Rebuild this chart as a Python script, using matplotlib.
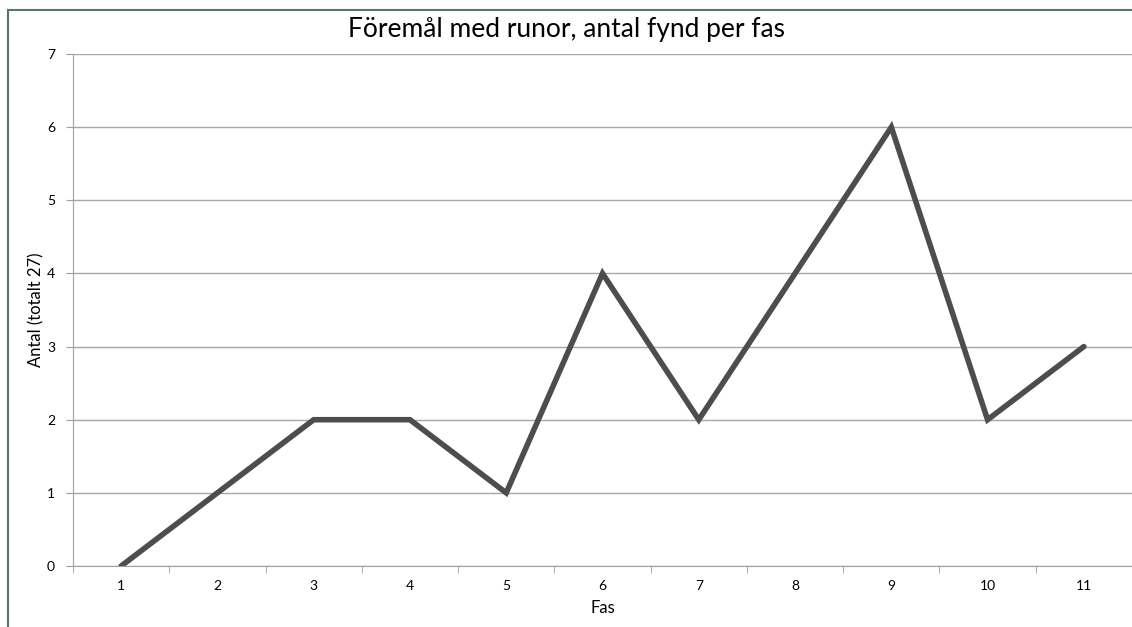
import matplotlib.pyplot as plt
from matplotlib.patches import Rectangle

faser = ['1', '2', '3', '4', '5', '6', '7', '8', '9', '10', '11']
antal = [0, 1, 2, 2, 1, 4, 2, 4, 6, 2, 3]

plt.rcParams['font.family'] = ['Lato', 'DejaVu Sans']

fig = plt.figure(figsize=(11.32, 6.27), dpi=100)
# outer chart frame (left/top edges visible)
fig.patches.append(Rectangle((8 / 1132, -0.1), 1.2, 1 - 10 / 627 + 0.1,
                             transform=fig.transFigure, fill=False,
                             edgecolor='#56756f', lw=1.5))

ax = fig.add_axes([73 / 1132, 1 - 566 / 627, 1 - 73 / 1132, (566 - 54) / 627])
x = range(len(faser))
ax.plot(x, antal, color='#4d4d4d', lw=4, solid_capstyle='round', solid_joinstyle='miter')

ax.set_xlim(-0.5, len(faser) - 0.5)
ax.set_ylim(0, 7)
ax.set_yticks(range(0, 8))
ax.set_xticks(list(x))
ax.set_xticklabels(faser)
ax.set_xticks([i - 0.5 for i in range(len(faser) + 1)], minor=True)
ax.tick_params(axis='x', which='major', length=0, pad=10, labelsize=10)
ax.tick_params(axis='x', which='minor', length=5, color='#a0a0a0', direction='out')
ax.tick_params(axis='y', length=5, color='#a0a0a0', labelsize=10, pad=8)
ax.yaxis.grid(True, color='#a6a6a6', lw=1)
ax.set_axisbelow(True)
for s in ['top', 'right']:
    ax.spines[s].set_visible(False)
ax.spines['left'].set_color('#a0a0a0')
ax.spines['bottom'].set_color('#a0a0a0')

ax.set_xlabel('Fas', fontsize=12, labelpad=6)
ax.set_ylabel('Antal (totalt 27)', fontsize=12, labelpad=2)
fig.text(0.5, 1 - 30 / 627, 'Föremål med runor, antal fynd per fas',
         ha='center', va='center', fontsize=19)

fig.savefig('out.png', dpi=100)
